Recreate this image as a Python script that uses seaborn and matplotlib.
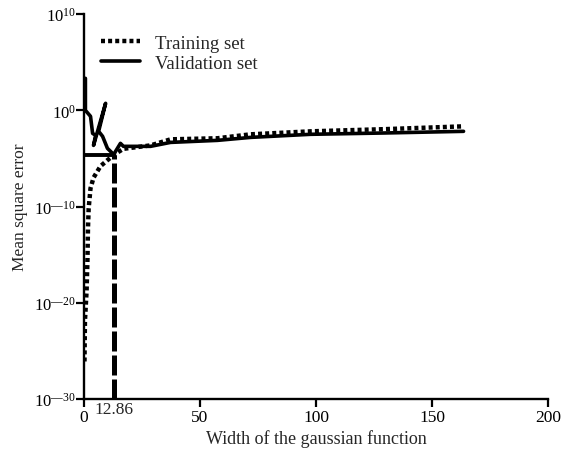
import numpy as np
import pandas as pd
import matplotlib
matplotlib.use('Agg')
import matplotlib.pyplot as plt
import seaborn as sns

# values (y given as log10 of the error)
train_x = [0.2, 0.4, 1.1, 1.5, 1.7, 2.0, 2.8, 4.1, 7.1, 10.0, 13.6, 17.0, 28.7, 37.3, 57.5, 71.8, 97.6, 130.0, 163.6]
train_log10 = [-26.1, -21.9, -18.8, -15.4, -12.3, -10.2, -8.1, -7.0, -5.8, -5.2, -4.5, -4.0, -3.64, -3.01, -2.9, -2.49, -2.18, -1.95, -1.66]

val_x = [0.6, 0.6, 2.8, 3.7, 5.0, 4.1, 9.3, 6.3, 8.0, 10.1, 12.86, 13.6, 15.7, 17.0, 28.7, 37.3, 57.5, 71.8, 97.6, 130.0, 163.6]
val_log10 = [3.33, 0.0, -0.62, -2.39, -2.60, -3.64, 0.73, -2.18, -2.70, -3.95, -4.6, -4.26, -3.43, -3.74, -3.74, -3.33, -3.12, -2.81, -2.49, -2.35, -2.18]

best_width = 12.86
best_log10 = -4.6

xticks = [0, 50, 100, 150, 200]
yticks_exp = [-30, -20, -10, 0, 10]

train = pd.DataFrame({'width': train_x, 'mse': 10.0 ** np.array(train_log10)})
val = pd.DataFrame({'width': val_x, 'mse': 10.0 ** np.array(val_log10)})

sns.set_style('ticks')
plt.rcParams['font.family'] = ['Liberation Serif', 'DejaVu Serif']
plt.rcParams['mathtext.fontset'] = 'custom'
plt.rcParams['mathtext.rm'] = 'Liberation Serif'
plt.rcParams['mathtext.it'] = 'Liberation Serif'

fig = plt.figure(figsize=(5.7, 4.56), dpi=100)
ax = fig.add_axes([0.1474, 0.1228, 0.814, 0.844])

sns.lineplot(data=train, x='width', y='mse', sort=False, estimator=None, ax=ax,
             color='black', lw=3.2, linestyle=(0, (0.9, 0.7)), label='Training set')
sns.lineplot(data=val, x='width', y='mse', sort=False, estimator=None, ax=ax,
             color='black', lw=2.6, label='Validation set')

# marker for the best width
ax.plot([0, best_width], [10 ** best_log10] * 2, color='black', lw=2.8)
ax.plot([best_width, best_width], [1e-30, 10 ** best_log10], color='black', lw=3.6,
        linestyle=(0, (4, 0.8)))

ax.set_yscale('log')
ax.set_xlim(0, 200)
ax.set_ylim(1e-30, 1e10)
ax.set_xticks(xticks)
ax.set_xticklabels([str(t) for t in xticks])
ax.set_yticks([10.0 ** e for e in yticks_exp])
ax.set_yticklabels(['10$^{%s}$' % (str(e).replace('-', '\u2014')) for e in yticks_exp])
ax.minorticks_off()
ax.tick_params(axis='both', direction='out', length=6, width=1.6, labelsize=12.5, colors='black')
ax.tick_params(axis='x', pad=1)
ax.tick_params(axis='y', pad=0, labelsize=12)
ax.text(best_width, -0.005, '12.86', transform=ax.get_xaxis_transform(), ha='center', va='top', fontsize=12.5)

for s in ['top', 'right']:
    ax.spines[s].set_visible(False)
for s in ['left', 'bottom']:
    ax.spines[s].set_linewidth(1.7)
    ax.spines[s].set_color('black')

ax.set_xlabel('Width of the gaussian function', fontsize=13, labelpad=3)
ax.set_ylabel('Mean square error', fontsize=12.5)
ax.yaxis.set_label_coords(-0.12, 0.5)
ax.legend(loc='upper left', bbox_to_anchor=(0.0, 0.99), frameon=False, fontsize=13.5,
          handlelength=2.1, handletextpad=0.8, labelspacing=0.15)

plt.savefig('out.png', dpi=100)
